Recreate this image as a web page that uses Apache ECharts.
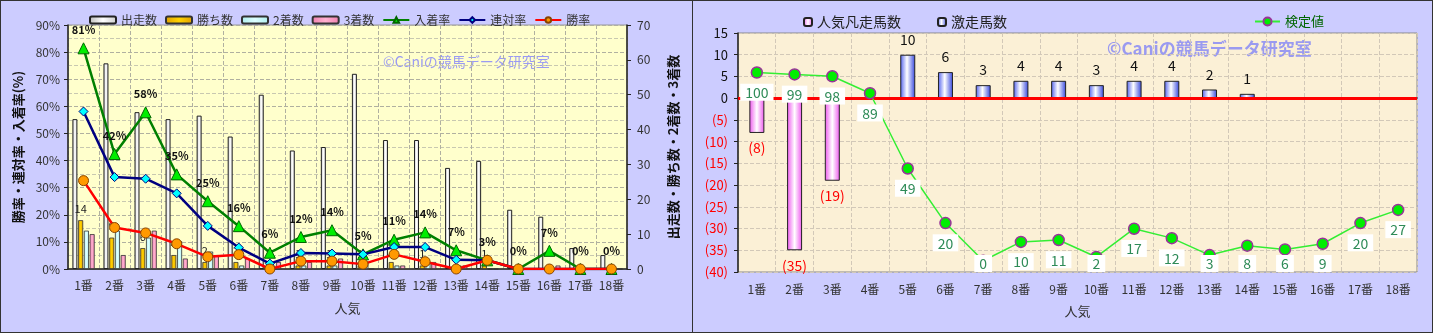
<!DOCTYPE html>
<html>
<head>
<meta charset="utf-8">
<script src="https://cdn.jsdelivr.net/npm/echarts@6/dist/echarts.min.js"></script>
<style>
html,body{margin:0;padding:0;background:#CCCCFF;width:1433px;height:333px;overflow:hidden;}
#c1{position:absolute;left:0;top:0;width:693px;height:333px;}
#c2{position:absolute;left:692px;top:0;width:741px;height:333px;}
.frame{position:absolute;top:0;height:333px;box-sizing:border-box;border:1px solid #333;pointer-events:none;}
</style>
</head>
<body>
<div id="c1"></div>
<div id="c2"></div>
<div class="frame" style="left:0;width:693px"></div>
<div class="frame" style="left:692px;width:741px"></div>
<script>
// ---- data ----
const categories = ['1番','2番','3番','4番','5番','6番','7番','8番','9番','10番','11番','12番','13番','14番','15番','16番','17番','18番'];
const starters = [43,59,45,43,44,38,50,34,35,56,37,37,29,31,17,15,6,4];
const wins     = [14,9,6,4,2,2,0,1,1,1,2,1,0,1,0,0,0,0];
const seconds  = [11,11,9,8,5,1,1,1,1,2,1,2,1,0,0,0,0,0];
const thirds   = [10,4,11,3,4,3,2,2,3,0,1,2,1,0,0,1,0,0];
const placeRate = [81.4,42.4,57.8,34.9,25.0,15.8,6.0,11.8,14.3,5.4,10.8,13.5,6.9,3.2,0,6.7,0,0];
const top2Rate  = [58.1,33.9,33.3,27.9,15.9,7.9,2.0,5.9,5.7,5.4,8.1,8.1,3.4,3.2,0,0,0,0];
const winRate   = [32.6,15.3,13.3,9.3,4.5,5.3,0,2.9,2.9,1.8,5.4,2.7,0,3.2,0,0,0,0];

const poorRun = [-8,-35,-19,null,null,null,null,null,null,null,null,null,null,null,null,null,null,null];
const surge   = [null,null,null,null,10,6,3,4,4,3,4,4,2,1,null,null,null,null];
const testValue = [100,99,98,89,49,20,0,10,11,2,17,12,3,8,6,9,20,27];

const rateTicks  = [0,10,20,30,40,50,60,70,80,90];
const countTicks = [0,10,20,30,40,50,60,70];
const scoreTicks = [-40,-35,-30,-25,-20,-15,-10,-5,0,5,10,15];
const testAxisRange = [-6,121];

const FONT = '"Noto Sans CJK JP", "Noto Sans", sans-serif';
const watermark = '©Caniの競馬データ研究室';

function hGrad(stops){
  return new echarts.graphic.LinearGradient(0,0,1,0,stops.map(s=>({offset:s[0],color:s[1]})));
}

// ---- left chart ----
const c1 = echarts.init(document.getElementById('c1'));
c1.setOption({
  animation:false,
  textStyle:{fontFamily:FONT},
  legend:{
    left:84, top:9, itemWidth:26, itemHeight:7, itemGap:8,
    textStyle:{fontSize:12, color:'#333', fontFamily:FONT},
    data:['出走数','勝ち数','2着数','3着数','入着率','連対率','勝率']
  },
  graphic:[{type:'text', left:383, top:55, silent:true,
    style:{text:watermark, fill:'#9A9AF2', font:'14px '+FONT}}],
  grid:{left:68, top:25, right:66, bottom:64, show:true, backgroundColor:'#FFFFCC', borderColor:'#999', borderWidth:1},
  xAxis:{
    type:'category', data:categories,
    axisLine:{lineStyle:{color:'#222', width:1.5}},
    axisTick:{show:false},
    axisLabel:{color:'#333', fontSize:12, margin:10, interval:0},
    splitLine:{show:true, interval:0, lineStyle:{color:'#B0B0A0', type:'dashed'}},
    name:'人気', nameLocation:'middle', nameGap:33,
    nameTextStyle:{color:'#333', fontSize:13}
  },
  yAxis:[{
    type:'value', min:rateTicks[0], max:rateTicks[rateTicks.length-1], interval:rateTicks[1]-rateTicks[0],
    axisLine:{show:true, lineStyle:{color:'#222', width:1.5}},
    axisTick:{show:true, length:4, lineStyle:{color:'#222'}},
    axisLabel:{formatter:'{value}%', color:'#333', fontSize:12, margin:8},
    splitLine:{lineStyle:{color:'#B0B0A0', type:'dashed'}},
    minorTick:{show:false, splitNumber:2},
    minorSplitLine:{show:true, lineStyle:{color:'#C8C8B0', type:'dashed'}},
    name:'勝率・連対率・入着率(%)', nameLocation:'middle', nameRotate:90, nameGap:42,
    nameTextStyle:{color:'#111', fontSize:13, fontWeight:'bold'}
  },{
    type:'value', position:'right', min:countTicks[0], max:countTicks[countTicks.length-1], interval:countTicks[1]-countTicks[0],
    axisLine:{show:true, lineStyle:{color:'#222', width:1.5}},
    axisTick:{show:true, length:4, lineStyle:{color:'#222'}},
    axisLabel:{color:'#333', fontSize:12, margin:10},
    splitLine:{show:false},
    name:'出走数・勝ち数・2着数・3着数', nameLocation:'middle', nameRotate:90, nameGap:40,
    nameTextStyle:{color:'#111', fontSize:13, fontWeight:'bold'}
  }],
  series:[
    {name:'出走数', type:'bar', yAxisIndex:1, data:starters, barWidth:5, barGap:'15%', barCategoryGap:'22%',
      itemStyle:{color:hGrad([[0,'#BBBBBB'],[0.5,'#FFFFFF'],[1,'#CCCCCC']]), borderColor:'#222', borderWidth:1}},
    {name:'勝ち数', type:'bar', yAxisIndex:1, data:wins, barWidth:5,
      itemStyle:{color:hGrad([[0,'#E0A000'],[0.5,'#FFD200'],[1,'#E0A000']]), borderColor:'#333', borderWidth:0.8},
      label:{show:true, position:'top', distance:6, color:'#222', fontSize:11,
        formatter:p=>p.value>0?p.value:''}},
    {name:'2着数', type:'bar', yAxisIndex:1, data:seconds, barWidth:5,
      itemStyle:{color:hGrad([[0,'#AEEEEE'],[0.5,'#DDFFFF'],[1,'#AEEEEE']]), borderColor:'#333', borderWidth:0.8}},
    {name:'3着数', type:'bar', yAxisIndex:1, data:thirds, barWidth:5,
      itemStyle:{color:hGrad([[0,'#F080B0'],[0.5,'#FFB0D0'],[1,'#F080B0']]), borderColor:'#333', borderWidth:0.8}},
    {name:'入着率', type:'line', yAxisIndex:0, data:placeRate, z:4,
      lineStyle:{color:'#008000', width:2.5}, symbol:'triangle', symbolSize:11,
      itemStyle:{color:'#00EE00', borderColor:'#006600', borderWidth:1},
      label:{show:true, position:'top', distance:7, color:'#111', fontSize:11, fontWeight:'bold',
        formatter:p=>Math.round(p.value)+'%'}},
    {name:'連対率', type:'line', yAxisIndex:0, data:top2Rate, z:5,
      lineStyle:{color:'#000080', width:2.5}, symbol:'diamond', symbolSize:9,
      itemStyle:{color:'#00FFFF', borderColor:'#000080', borderWidth:1}},
    {name:'勝率', type:'line', yAxisIndex:0, data:winRate, z:6,
      lineStyle:{color:'#FF0000', width:2.5}, symbol:'circle', symbolSize:10,
      itemStyle:{color:'#FF9900', borderColor:'#884400', borderWidth:1}}
  ]
});

// ---- right chart ----
const c2 = echarts.init(document.getElementById('c2'));
const gridBottomPx = 333 - 61;
c2.setOption({
  animation:false,
  textStyle:{fontFamily:FONT},
  legend:[{
    left:106, top:10, itemWidth:8, itemHeight:8, itemGap:36,
    textStyle:{fontSize:14, color:'#222', fontFamily:FONT},
    data:['人気凡走馬数','激走馬数']
  },{
    left:557, top:10, itemWidth:25, itemHeight:10,
    textStyle:{fontSize:13, color:'#006600', fontFamily:FONT},
    data:['検定値']
  }],
  graphic:[{type:'text', left:415, top:40, silent:true, z:0,
    style:{text:watermark, fill:'#9A9AF0', font:'bold 17px '+FONT}}],
  grid:{left:46, top:33, right:16, bottom:61, show:true, backgroundColor:'#FBF0D6', borderColor:'#888', borderWidth:1},
  xAxis:{
    type:'category', data:categories,
    axisLine:{lineStyle:{color:'#222', width:1.5}},
    axisTick:{show:false},
    axisLabel:{color:'#333', fontSize:12, margin:11, interval:0},
    splitLine:{show:true, interval:0, lineStyle:{color:'#D2C8B8', type:'dashed'}},
    name:'人気', nameLocation:'middle', nameGap:33,
    nameTextStyle:{color:'#333', fontSize:13}
  },
  yAxis:[{
    type:'value', min:scoreTicks[0], max:scoreTicks[scoreTicks.length-1], interval:scoreTicks[1]-scoreTicks[0],
    axisLine:{show:true, lineStyle:{color:'#222', width:1.5}},
    axisTick:{show:true, length:4, lineStyle:{color:'#222'}},
    axisLabel:{fontSize:13, margin:10,
      formatter:v=>v<0?'('+(-v)+')':String(v),
      color:(v)=>Number(v)<0?'#FF0000':'#111'},
    splitLine:{lineStyle:{color:'#D2C8B8', type:'dashed'}}
  },{
    type:'value', show:false, min:testAxisRange[0], max:testAxisRange[1],
    splitLine:{show:false}
  }],
  series:[
    {name:'人気凡走馬数', type:'bar', stack:'a', data:poorRun, barWidth:15,
      itemStyle:{color:hGrad([[0,'#EE55EE'],[0.5,'#FFFFFF'],[1,'#EE55EE']]), borderColor:'#222', borderWidth:1},
      label:{show:true, position:'bottom', distance:8, color:'#FF0000', fontSize:14,
        formatter:p=>p.value==null?'':'('+(-p.value)+')'}},
    {name:'激走馬数', type:'bar', stack:'a', data:surge, barWidth:15,
      itemStyle:{color:hGrad([[0,'#5060EE'],[0.45,'#FFFFFF'],[1,'#3344DD']]), borderColor:'#222', borderWidth:1},
      label:{show:true, position:'top', distance:8, color:'#111', fontSize:14,
        formatter:p=>p.value==null?'':p.value},
      markLine:{silent:true, symbol:'none', label:{show:false},
        lineStyle:{color:'#FF0000', width:3, type:'solid'}, data:[{yAxis:0}]}},
    {name:'検定値', type:'line', yAxisIndex:1, data:testValue, z:6,
      lineStyle:{color:'#33EE33', width:1.5}, symbol:'circle', symbolSize:11,
      itemStyle:{color:'#00EE00', borderColor:'#993399', borderWidth:1.5},
      label:{show:true, position:'bottom', distance:5, color:'#2E8B57', fontSize:14,
        backgroundColor:'#FFFFFF', padding:[2,5,1,5]},
      labelLayout:function(params){
        const r = params.labelRect;
        const over = r.y + r.height - gridBottomPx;
        return over > 0 ? {dy:-over} : {};
      }}
  ]
});
</script>
</body>
</html>
